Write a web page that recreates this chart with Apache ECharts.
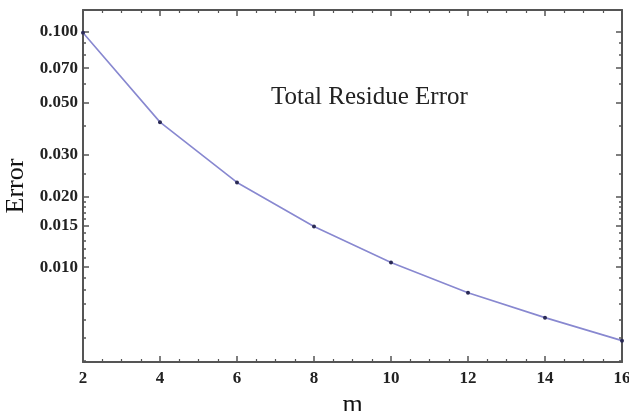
<!DOCTYPE html>
<html>
<head>
<meta charset="utf-8">
<script src="https://cdn.jsdelivr.net/npm/echarts@6/dist/echarts.min.js"></script>
<style>
html,body{margin:0;padding:0;background:#fff;}
#chart{width:629px;height:411px;}
</style>
</head>
<body>
<div id="chart"></div>
<script>
// Data
var mValues = [2, 4, 6, 8, 10, 12, 14, 16];
var errorValues = [0.099, 0.0413, 0.0229, 0.0149, 0.01047, 0.0078, 0.00611, 0.00488];
var yTickLabels = [0.1, 0.07, 0.05, 0.03, 0.02, 0.015, 0.01];
var yMinorTicks = [0.09, 0.08, 0.06, 0.04, 0.025, 0.019, 0.018, 0.017, 0.016, 0.014, 0.013, 0.012, 0.011, 0.009, 0.008, 0.007, 0.006, 0.005, 0.004];
var xTicks = [2, 4, 6, 8, 10, 12, 14, 16];
var titleText = 'Total Residue Error';
var xName = 'm';
var yName = 'Error';

var serif = '"Liberation Serif", "DejaVu Serif", serif';
var axisColor = '#555555';
var yMin = 0.00396, yMax = 0.1236;

function yAxisDef(pos, ticks, len, showLabel, showLine, name) {
  return {
    type: 'log', position: pos, min: yMin, max: yMax, logBase: 10,
    name: name || '', nameLocation: 'middle', nameGap: 48, nameRotate: 90,
    nameTextStyle: {fontFamily: serif, fontSize: 26, color: '#111'},
    axisLine: {show: showLine, lineStyle: {color: axisColor, width: 2}},
    axisTick: {show: true, inside: true, length: len, customValues: ticks, lineStyle: {color: axisColor, width: 1.5}},
    axisLabel: {show: showLabel, customValues: ticks, formatter: function (v) { return Number(v).toFixed(3); },
      fontFamily: serif, fontSize: 17, fontWeight: 'bold', color: '#222', margin: 5},
    splitLine: {show: false}, minorTick: {show: false}
  };
}
function xAxisDef(pos, showLabel, name) {
  return {
    type: 'value', position: pos, min: 2, max: 16, interval: 2,
    name: name || '', nameLocation: 'middle', nameGap: 22,
    nameTextStyle: {fontFamily: serif, fontSize: 26, color: '#111'},
    axisLine: {show: true, onZero: false, lineStyle: {color: axisColor, width: 2}},
    axisTick: {show: true, inside: true, length: 6, lineStyle: {color: axisColor, width: 1.5}},
    minorTick: {show: true, splitNumber: 4, length: 3, lineStyle: {color: axisColor, width: 1.2}},
    axisLabel: {show: showLabel, fontFamily: serif, fontSize: 17, fontWeight: 'bold', color: '#222', margin: 8,
      formatter: function (v) { return String(v); }},
    splitLine: {show: false}, minorSplitLine: {show: false}
  };
}

var chart = echarts.init(document.getElementById('chart'), null, {renderer: 'canvas'});
chart.setOption({
  backgroundColor: '#ffffff',
  animation: false,
  grid: {left: 83, right: 7, top: 10, bottom: 49, containLabel: false, outerBoundsMode: 'none'},
  xAxis: [xAxisDef('bottom', true, xName), xAxisDef('top', false)],
  yAxis: [
    yAxisDef('left', yTickLabels, 6, true, true, yName),
    yAxisDef('left', yMinorTicks, 3, false, false),
    yAxisDef('right', yTickLabels, 6, false, true),
    yAxisDef('right', yMinorTicks, 3, false, false)
  ],
  graphic: [{
    type: 'text', left: 271, top: 85,
    style: {text: titleText, font: '25px ' + serif, fill: '#222'}
  }],
  series: [{
    type: 'line', xAxisIndex: 0, yAxisIndex: 0,
    data: mValues.map(function (m, i) { return [m, errorValues[i]]; }),
    symbol: 'circle', symbolSize: 4,
    lineStyle: {color: '#8888d0', width: 1.6},
    itemStyle: {color: '#2a2a55'},
    showSymbol: true
  }]
});
</script>
</body>
</html>
